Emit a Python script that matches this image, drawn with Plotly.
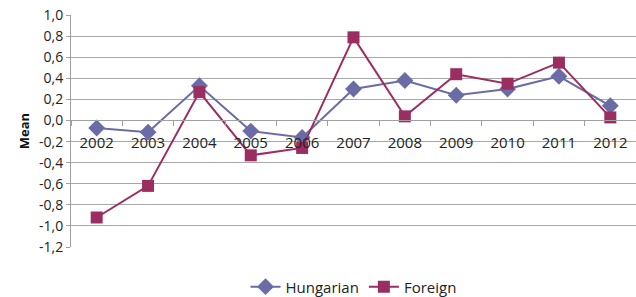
import plotly.graph_objects as go

years = ["2002", "2003", "2004", "2005", "2006", "2007", "2008", "2009", "2010", "2011", "2012"]
hungarian = [-0.07, -0.11, 0.33, -0.10, -0.16, 0.30, 0.38, 0.24, 0.30, 0.42, 0.14]
foreign = [-0.92, -0.62, 0.27, -0.33, -0.26, 0.79, 0.04, 0.44, 0.35, 0.55, 0.03]
y_ticks = [1.0, 0.8, 0.6, 0.4, 0.2, 0.0, -0.2, -0.4, -0.6, -0.8, -1.0, -1.2]
y_tick_labels = ["1,0", "0,8", "0,6", "0,4", "0,2", "0,0", "-0,2", "-0,4", "-0,6", "-0,8", "-1,0", "-1,2"]

y_min, y_max = -1.2, 1.0
font = "Open Sans"

fig = go.Figure()
fig.add_trace(go.Scatter(
    x=years, y=hungarian, name="Hungarian", mode="lines+markers",
    line=dict(color="#6B6BA6", width=2),
    marker=dict(symbol="diamond", size=13, color="#6B6BA6"),
))
fig.add_trace(go.Scatter(
    x=years, y=foreign, name="Foreign", mode="lines+markers",
    line=dict(color="#9B2D61", width=2),
    marker=dict(symbol="square", size=12, color="#9B2D61"),
))

fig.update_layout(
    width=636, height=297,
    margin=dict(l=71, r=0, t=15, b=50, autoexpand=False),
    paper_bgcolor="white", plot_bgcolor="white",
    font=dict(family=font, size=12, color="#222222"),
    showlegend=True,
    legend=dict(orientation="h", x=0.5, xanchor="center", y=-0.172, yanchor="middle",
                font=dict(family=font, size=15, color="#222222")),
    xaxis=dict(
        type="category", anchor="free", position=(0 - y_min) / (y_max - y_min),
        showline=True, linecolor="#A0A0A0", linewidth=1,
        ticks="outside", tickson="boundaries", ticklen=5, tickcolor="#A0A0A0",
        ticklabelstandoff=9, automargin=False,
        showgrid=False, tickfont=dict(family=font, size=15, color="#222222"),
        range=[-0.5, 10.5],
    ),
    yaxis=dict(
        range=[y_min, y_max + 0.002], tickvals=y_ticks, ticktext=y_tick_labels,
        ticklabeloverflow="allow",
        showgrid=True, gridcolor="#A8A8A8", gridwidth=1, zeroline=False,
        showline=True, linecolor="#A0A0A0", ticks="outside", ticklen=4, tickcolor="#A0A0A0",
        automargin=False,
        tickfont=dict(family=font, size=14, color="#222222"),
        title=dict(text="<b>Mean</b>", font=dict(family=font, size=13, color="#111111"), standoff=6),
    ),
)

# remove the browser's default 8px body margin so the figure fills the window
fig.write_html("out.html", config={"displayModeBar": False},
               post_script="document.body.style.margin='0';")
